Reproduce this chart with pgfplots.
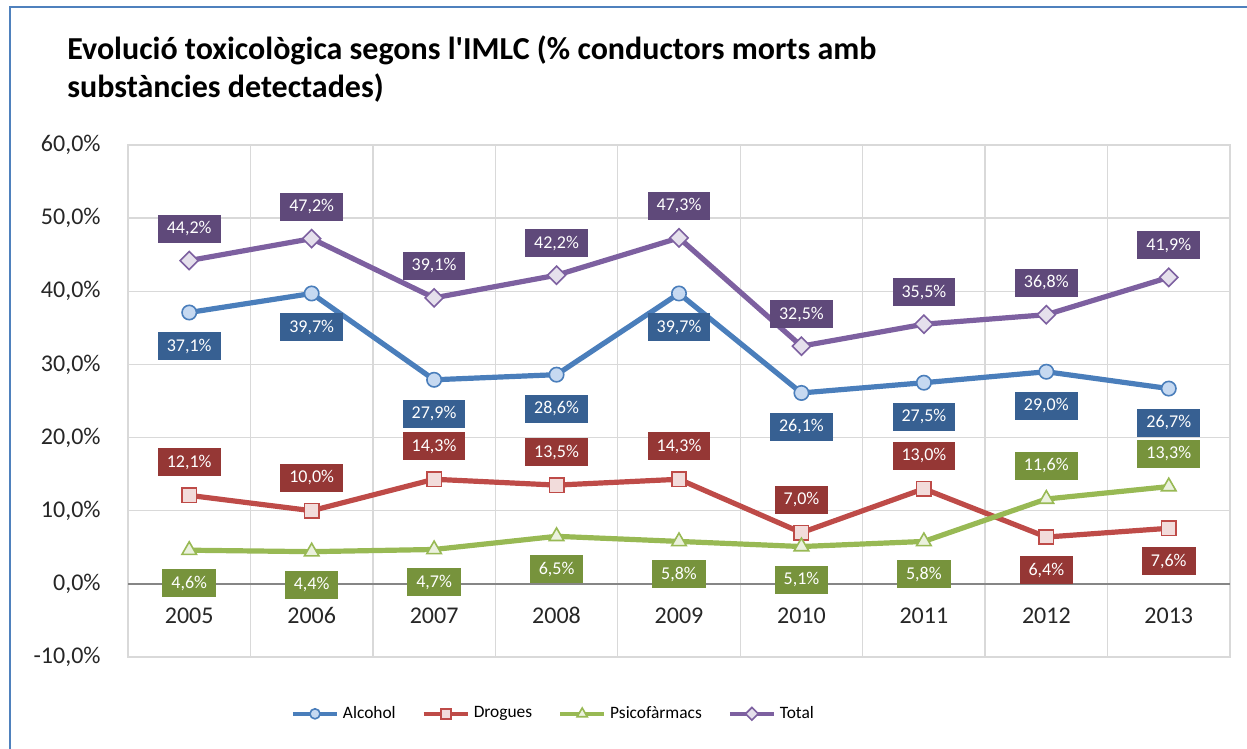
\documentclass[border=0pt]{standalone}
\usepackage{pgfplots}
\pgfplotsset{compat=1.18}
\usepackage{fontspec}
\setmainfont{Carlito}
\definecolor{frame}{HTML}{4F81BD}
\definecolor{gridgray}{HTML}{D9D9D9}
\definecolor{axisgray}{HTML}{868686}
\definecolor{alc}{HTML}{4A7EBB}
\definecolor{alcf}{HTML}{C6D9F1}
\definecolor{alcl}{HTML}{376092}
\definecolor{dro}{HTML}{BE4B48}
\definecolor{drof}{HTML}{F2DCDB}
\definecolor{drol}{HTML}{953735}
\definecolor{psi}{HTML}{98B954}
\definecolor{psif}{HTML}{EBF1DE}
\definecolor{psil}{HTML}{77933C}
\definecolor{tot}{HTML}{7D60A0}
\definecolor{totf}{HTML}{E5E0EC}
\definecolor{totl}{HTML}{5F497A}
\pgfplotsset{
  lbl/.style={nodes near coords={\pgfmathprintnumber[fixed,fixed zerofill,precision=1,use comma]{\pgfplotspointmeta}\%},
    every node near coord/.append style={fill=#1, text=white, font=\fontsize{9}{10}\selectfont,
      inner xsep=4.5pt, inner ysep=0pt, minimum height=14pt, anchor=center}},
}
\begin{document}
\begin{tikzpicture}
\path[use as bounding box] (0pt,0pt) rectangle (623.5pt,374.5pt);
\draw[color=frame, line width=0.9pt] (5pt,0pt) -- (5pt,371pt) -- (623.5pt,371pt);
\node[anchor=base west, font=\fontsize{16}{18}\selectfont\bfseries, inner sep=0pt] at (33.5pt,344.5pt) {Evolució toxicològica segons l\textquotesingle IMLC (\% conductors morts amb};
\node[anchor=base west, font=\fontsize{16}{18}\selectfont\bfseries, inner sep=0pt] at (33.5pt,325.5pt) {substàncies detectades)};
\begin{axis}[
  at={(64pt,46pt)}, anchor=south west, scale only axis, width=551pt, height=256pt,
  xmin=-0.5, xmax=8.5, ymin=-10, ymax=60,
  xtick={0,...,8}, xticklabels={2005,2006,2007,2008,2009,2010,2011,2012,2013},
  minor xtick={0.5,1.5,...,7.5},
  ytick={-10,0,...,60},
  ymajorgrids, xminorgrids,
  major grid style={draw=gridgray, line width=0.7pt},
  minor grid style={draw=gridgray, line width=0.7pt},
  axis line style={draw=gridgray, line width=0.9pt},
  major tick length=0pt, minor tick length=0pt,
  /pgf/number format/assume math mode=true,
  tick label style={font=\fontsize{12}{14}\selectfont, text=black!85},
  yticklabel={\pgfmathprintnumber[fixed,fixed zerofill,precision=1,use comma]{\tick}\%},
  yticklabel style={inner sep=0pt, xshift=-13.5pt},
  xticklabel style={anchor=base, yshift=16.5pt},
  clip=false,
  legend style={at={(0.387,-0.111)}, anchor=center, draw=none, fill=none,
    legend columns=4, font=\fontsize{8.7}{10}\selectfont,
    /tikz/every even column/.append style={column sep=11pt}},
  legend cell align=left,
  legend image code/.code={\draw[mark repeat=2,mark phase=2,#1,line width=2pt,every mark/.append style={scale=0.7}] plot coordinates {(0pt,0pt) (11pt,0pt) (22pt,0pt)};},
]
\addplot[forget plot, draw=axisgray, line width=1pt] coordinates {(-0.5,0) (8.5,0)};
\addplot[color=alc, line width=2.6pt, mark=*, mark size=3.6pt,
  mark options={fill=alcf, draw=alc, line width=0.8pt},
  lbl=alcl, every node near coord/.append style={yshift=-17pt}]
  coordinates {(0,37.1) (1,39.7) (2,27.9) (3,28.6) (4,39.7) (5,26.1) (6,27.5) (7,29.0) (8,26.7)};
\addlegendentry{Alcohol}
\addplot[color=dro, line width=2.6pt, mark=square*, mark size=3.6pt,
  mark options={fill=drof, draw=dro, line width=0.8pt},
  lbl=drol, every node near coord/.append style={yshift=16.5pt},
  coordinate style/.condition={\coordindex>6}{yshift=-33pt}]
  coordinates {(0,12.1) (1,10.0) (2,14.3) (3,13.5) (4,14.3) (5,7.0) (6,13.0) (7,6.4) (8,7.6)};
\addlegendentry{Drogues}
\addplot[color=psi, line width=2.6pt, mark=triangle*, mark size=4.2pt,
  mark options={fill=psif, draw=psi, line width=0.8pt},
  lbl=psil, every node near coord/.append style={yshift=-16.5pt},
  coordinate style/.condition={\coordindex>6}{yshift=33pt}]
  coordinates {(0,4.6) (1,4.4) (2,4.7) (3,6.5) (4,5.8) (5,5.1) (6,5.8) (7,11.6) (8,13.3)};
\addlegendentry{Psicofàrmacs}
\addplot[color=tot, line width=2.6pt, mark=square*, mark size=3.2pt,
  mark options={fill=totf, draw=tot, line width=0.8pt, rotate=45},
  lbl=totl, every node near coord/.append style={yshift=16pt}]
  coordinates {(0,44.2) (1,47.2) (2,39.1) (3,42.2) (4,47.3) (5,32.5) (6,35.5) (7,36.8) (8,41.9)};
\addlegendentry{Total}
\end{axis}
\end{tikzpicture}
\end{document}
